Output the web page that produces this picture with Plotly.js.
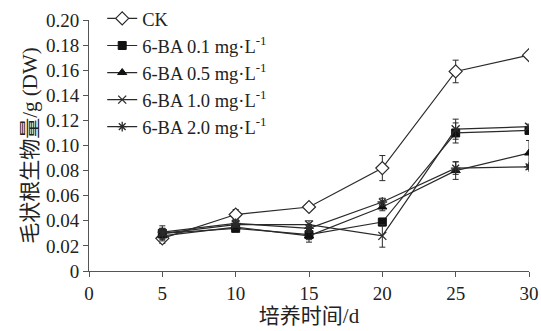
<!DOCTYPE html>
<html><head><meta charset="utf-8">
<script src="https://cdn.plot.ly/plotly-3.0.1.min.js"></script>
<style>html,body{margin:0;padding:0;background:#fff}#c{width:541px;height:331px}</style>
</head><body><div id="c"></div>
<script>
const days = [5, 10, 15, 20, 25, 30];
const seriesNames = ['CK', '6-BA 0.1 mg·L<sup>-1</sup>', '6-BA 0.5 mg·L<sup>-1</sup>', '6-BA 1.0 mg·L<sup>-1</sup>', '6-BA 2.0 mg·L<sup>-1</sup>'];
const ck    = [0.026, 0.045, 0.051, 0.082, 0.159, 0.172];
const ba01  = [0.030, 0.034, 0.029, 0.039, 0.110, 0.112];
const ba05  = [0.028, 0.035, 0.028, 0.051, 0.080, 0.094];
const ba10  = [0.030, 0.037, 0.037, 0.028, 0.113, 0.115];
const ba20  = [0.031, 0.038, 0.034, 0.055, 0.082, 0.083];
const ckErr   = [0.004, 0.004, 0.001, 0.010, 0.009, 0.001];
const ba01Err = [0.006, 0.002, 0.004, 0.003, 0.008, 0.002];
const ba05Err = [0.003, 0.002, 0.005, 0.003, 0.007, 0.010];
const ba10Err = [0.004, 0.002, 0.003, 0.009, 0.008, 0.002];
const ba20Err = [0.003, 0.002, 0.003, 0.003, 0.005, 0.002];
const xTicks = [0, 5, 10, 15, 20, 25, 30];
const yTicks = [0, 0.02, 0.04, 0.06, 0.08, 0.10, 0.12, 0.14, 0.16, 0.18, 0.20];
const yTickText = ['0', '0.02', '0.04', '0.06', '0.08', '0.10', '0.12', '0.14', '0.16', '0.18', '0.20'];

const lc = '#2a2a2a';
const allY = [ck, ba01, ba05, ba10, ba20];
const allE = [ckErr, ba01Err, ba05Err, ba10Err, ba20Err];
const markers = [
  {symbol: 'diamond', size: 10, color: '#fff', line: {color: lc, width: 1.2}},
  {symbol: 'square', size: 8, color: '#111', line: {color: '#111', width: 1}},
  {symbol: 'triangle-up', size: 8, color: '#111', line: {color: '#111', width: 1}},
  {symbol: 'x-thin-open', size: 8, color: lc, line: {color: lc, width: 1.3}},
  {symbol: 'asterisk-open', size: 8, color: lc, line: {color: lc, width: 1.3}}
];
const traces = allY.map((y, i) => ({
  x: days, y: y, name: seriesNames[i], type: 'scatter', mode: 'lines+markers',
  line: {color: lc, width: 1.2},
  marker: markers[i],
  error_y: {type: 'data', array: allE[i], visible: true, color: lc, thickness: 1, width: 3}
}));

const serif = '"Liberation Serif", "Times New Roman", "Noto Sans CJK SC", serif';
const font = {family: serif, size: 19, color: '#222'};
Plotly.newPlot('c', traces, {
  width: 541, height: 331,
  margin: {l: 89, r: 12, t: 20, b: 60, autoexpand: false},
  paper_bgcolor: '#fff', plot_bgcolor: '#fff',
  font: font,
  showlegend: true,
  legend: {x: 0.03, y: 1.08, xanchor: 'left', yanchor: 'top', bgcolor: 'rgba(0,0,0,0)',
           font: {family: serif, size: 18.5, color: '#222'}, tracegroupgap: 0, itemwidth: 30},
  xaxis: {range: [0, 30], tickvals: xTicks, ticktext: xTicks.map(String), ticks: 'outside', ticklen: 5,
          tickcolor: '#555', showline: true, linecolor: '#555', linewidth: 1, showgrid: false, zeroline: false,
          tickfont: {family: serif, size: 19, color: '#222'},
          title: {text: '培养时间/d', font: {family: serif, size: 21, color: '#222'}, standoff: 2}},
  yaxis: {range: [0, 0.20], tickvals: yTicks, ticktext: yTickText, ticks: 'outside', ticklen: 5,
          tickcolor: '#555', showline: true, linecolor: '#555', linewidth: 1, showgrid: false, zeroline: false,
          tickfont: {family: serif, size: 19, color: '#222'},
          title: {text: '毛状根生物量/g (DW)', font: {family: serif, size: 21, color: '#222'}, standoff: 2}}
}, {displayModeBar: false, staticPlot: true});
</script></body></html>
